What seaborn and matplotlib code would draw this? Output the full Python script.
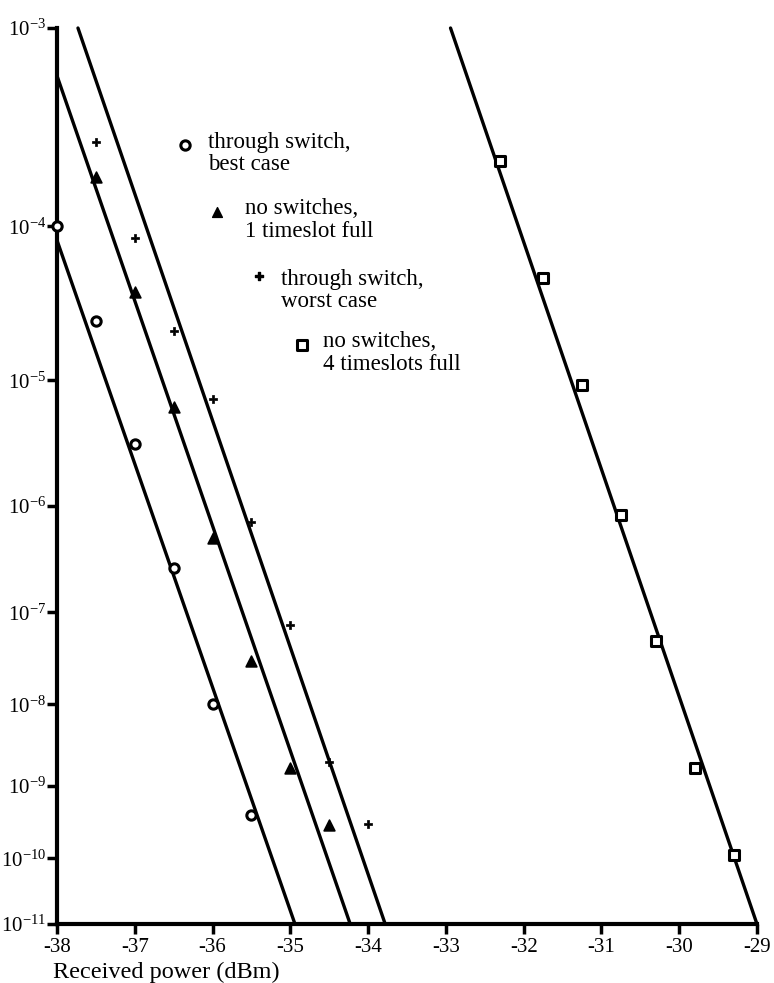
import numpy as np
import matplotlib
matplotlib.use("Agg")
import matplotlib.pyplot as plt
import seaborn as sns

# BER measurements vs received power (dBm)
best_x = [-38.0, -37.5, -37.0, -36.5, -36.0, -35.5]
best_y = [1.0e-4, 2.6e-5, 3.3e-6, 2.7e-7, 1.0e-8, 4.0e-10]

one_x = [-37.5, -37.0, -36.5, -36.0, -35.5, -35.0, -34.5]
one_y = [1.9e-4, 4.0e-5, 6.3e-6, 5.2e-7, 3.1e-8, 1.7e-9, 3.0e-10]

worst_x = [-37.5, -37.0, -36.5, -36.0, -35.5, -35.0, -34.5, -34.0]
worst_y = [2.9e-4, 8.5e-5, 2.2e-5, 7.3e-6, 7.2e-7, 7.4e-8, 2.0e-9, 3.1e-10]

four_x = [-32.3, -31.75, -31.25, -30.75, -30.3, -29.8, -29.3]
four_y = [2.3e-4, 4.9e-5, 9.3e-6, 8.3e-7, 5.0e-8, 1.7e-9, 1.1e-10]

# fitted straight lines (end points)
best_fit_x, best_fit_y = [-38.0, -34.94], [8.3e-5, 1e-11]
one_fit_x, one_fit_y = [-38.0, -34.23], [6.1e-4, 1e-11]
worst_fit_x, worst_fit_y = [-37.73, -33.78], [1e-3, 1e-11]
four_fit_x, four_fit_y = [-32.94, -29.0], [1e-3, 1e-11]

labels = ["through switch,\nbest case", "no switches,\n1 timeslot full",
          "through switch,\nworst case", "no switches,\n4 timeslots full"]

y_ticks = [1e-3, 1e-4, 1e-5, 1e-6, 1e-7, 1e-8, 1e-9, 1e-10, 1e-11]
x_ticks = [-38, -37, -36, -35, -34, -33, -32, -31, -30, -29]


def fwd(y):
    y = np.clip(np.asarray(y, dtype=float), 1e-300, 1 - 1e-12)
    return -np.log10(-np.log10(y))


def inv(t):
    return 10.0 ** (-(10.0 ** (-np.asarray(t, dtype=float))))


sns.set_style("ticks")
plt.rcParams["font.family"] = ["Liberation Serif", "DejaVu Serif"]
plt.rcParams["mathtext.fontset"] = "stix"
for k in ["text.color", "axes.labelcolor", "xtick.color", "ytick.color", "axes.edgecolor"]:
    plt.rcParams[k] = "black"

fig = plt.figure(figsize=(7.74, 9.83), dpi=100)
ax = fig.add_axes([0.0736, 0.060, 0.9044, 0.9115])

lw = 2.4
for fx, fy in [(best_fit_x, best_fit_y), (one_fit_x, one_fit_y),
               (worst_fit_x, worst_fit_y), (four_fit_x, four_fit_y)]:
    sns.lineplot(x=fx, y=fy, ax=ax, color="black", lw=lw, clip_on=False)

sns.scatterplot(x=best_x, y=best_y, ax=ax, marker="o", s=45, facecolor="white",
                edgecolor="black", linewidth=2.2, clip_on=False, zorder=3)
sns.scatterplot(x=one_x, y=one_y, ax=ax, marker="^", s=60, color="black",
                edgecolor="black", linewidth=1.2, clip_on=False, zorder=3)
sns.scatterplot(x=worst_x, y=worst_y, ax=ax, marker="P", s=40, color="black",
                edgecolor="black", linewidth=0.5, clip_on=False, zorder=3)
sns.scatterplot(x=four_x, y=four_y, ax=ax, marker="s", s=55, facecolor="white",
                edgecolor="black", linewidth=2.2, clip_on=False, zorder=3)

ax.set_yscale("function", functions=(fwd, inv))
ax.set_xlim(-38, -29)
ax.set_ylim(1e-11, 1e-3)
ax.set_yticks(y_ticks)
ax.set_yticklabels([r"$\mathregular{10^{%d}}$" % int(round(np.log10(v))) for v in y_ticks])
ax.minorticks_off()
ax.set_xticks(x_ticks)
ax.set_xticklabels([str(v) for v in x_ticks])
ax.tick_params(axis="both", direction="out", length=7, width=2.5, labelsize=15,
               color="black", labelcolor="black")
ax.tick_params(axis="y", pad=1)
ax.tick_params(axis="x", pad=3)

for side in ["top", "right"]:
    ax.spines[side].set_visible(False)
for side in ["left", "bottom"]:
    ax.spines[side].set_linewidth(3)
    ax.spines[side].set_color("black")

ax.set_xlabel("Received power (dBm)", fontsize=17.5, labelpad=0)
ax.xaxis.set_label_coords(-0.006, -0.054)
ax.xaxis.label.set_horizontalalignment("left")
ax.xaxis.label.set_verticalalignment("center")
ax.set_ylabel("")

# staggered key
key = [("o", 0.183, 0.869, 0.216, 0.860, dict(s=45, facecolor="white", edgecolor="black", linewidth=2.2)),
       ("^", 0.229, 0.795, 0.269, 0.786, dict(s=50, color="black")),
       ("P", 0.289, 0.723, 0.320, 0.707, dict(s=30, color="black")),
       ("s", 0.350, 0.646, 0.380, 0.637, dict(s=45, facecolor="white", edgecolor="black", linewidth=2.2))]
for (m, mx, my, tx, ty, kw), lab in zip(key, labels):
    ax.scatter([mx], [my], marker=m, transform=ax.transAxes, zorder=4, **kw)
    ax.text(tx, ty, lab, transform=ax.transAxes, fontsize=16.5, va="center",
            ha="left", linespacing=1.1)

fig.savefig("out.png", dpi=100)
